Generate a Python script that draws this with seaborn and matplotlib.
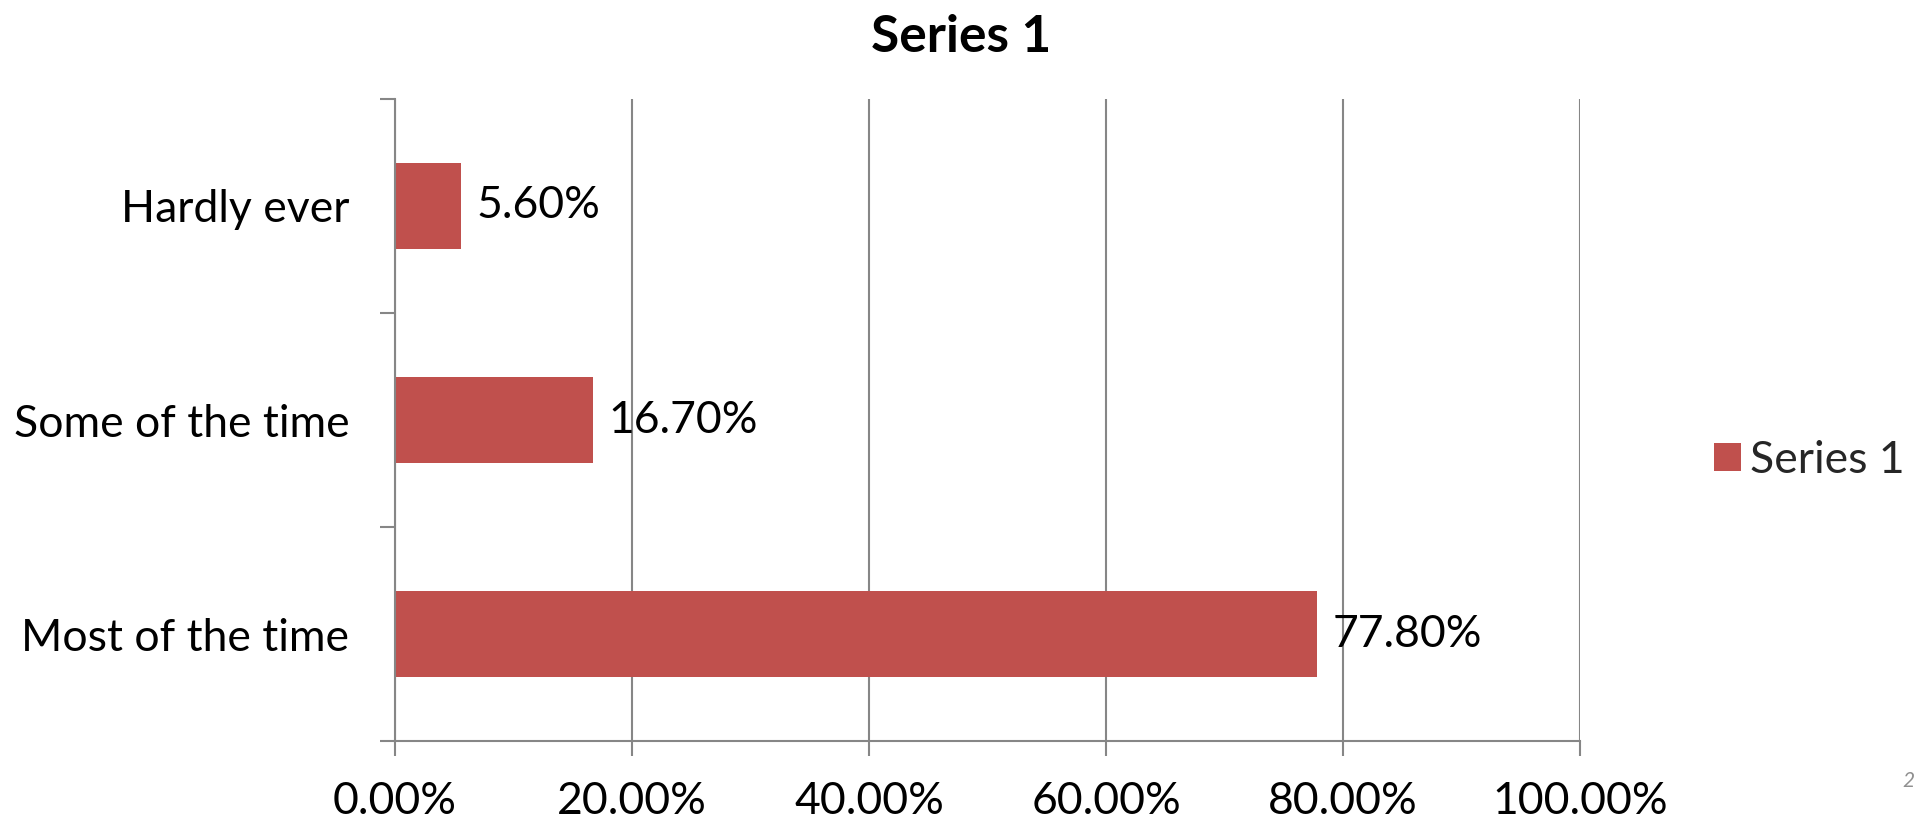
import matplotlib
matplotlib.use("Agg")
import matplotlib.pyplot as plt
import seaborn as sns
import pandas as pd
from matplotlib.ticker import FixedLocator, FuncFormatter
from matplotlib.patches import Patch

categories = ["Hardly ever", "Some of the time", "Most of the time"]
values = [5.6, 16.7, 77.8]
value_labels = ["5.60%", "16.70%", "77.80%"]
x_ticks = [0, 20, 40, 60, 80, 100]
series_name = "Series 1"

sns.set_theme(style="white")
plt.rcParams['font.family'] = ['Lato', 'DejaVu Sans']

BAR = "#C0504D"
GRID = "#868686"
FS = 32

df = pd.DataFrame({"cat": categories, "val": values})

fig = plt.figure(figsize=(19.23, 8.22), dpi=100)
ax = fig.add_axes([395/1923, 1 - 741/822, (1580 - 395)/1923, (741 - 99)/822])

sns.barplot(data=df, x="val", y="cat", order=categories, color=BAR,
            saturation=1, width=0.4, ax=ax, edgecolor="none")

ax.set_xlim(0, 100)
ax.set_ylim(2.5, -0.5)
ax.xaxis.set_major_locator(FixedLocator(x_ticks))
ax.xaxis.set_major_formatter(FuncFormatter(lambda v, p: f"{v:.2f}%"))
ax.grid(axis="x", color=GRID, linewidth=1.5)
ax.set_axisbelow(True)
ax.set_xlabel("")
ax.set_ylabel("")

for s in ["top", "right"]:
    ax.spines[s].set_visible(False)
for s in ["left", "bottom"]:
    ax.spines[s].set_color(GRID)
    ax.spines[s].set_linewidth(1.5)

# category boundary ticks on y, labels centred on bars
ax.yaxis.set_major_locator(FixedLocator([0, 1, 2]))
ax.yaxis.set_minor_locator(FixedLocator([-0.5, 0.5, 1.5, 2.5]))
ax.tick_params(axis="y", which="major", length=0, pad=33, labelsize=FS, labelcolor="black")
ax.tick_params(axis="y", which="minor", left=True, length=11, width=1.5, color=GRID)
ax.tick_params(axis="x", which="major", bottom=True, length=11, width=1.5, color=GRID,
               pad=18, labelsize=FS, labelcolor="black")

for i, (v, lab) in enumerate(zip(values, value_labels)):
    ax.text(v + 1.3, i, lab, va="center", ha="left", fontsize=FS, color="black")

fig.text(0.5, 1 - 37/822, series_name, ha="center", va="center",
         fontsize=37, fontweight="bold", color="black")

handles = [Patch(facecolor=BAR, edgecolor="none", label=series_name)]
fig.legend(handles=handles, loc="center left", bbox_to_anchor=(1714/1923, 1 - 460/822),
           frameon=False, fontsize=FS, handlelength=0.6, handleheight=0.6,
           handletextpad=0.2, borderpad=0, borderaxespad=0)

fig.text(1902/1923, 1 - 781/822, "2", fontsize=15, color="#909090", style="italic",
         ha="left", va="center")

fig.savefig("out.png", dpi=100)
